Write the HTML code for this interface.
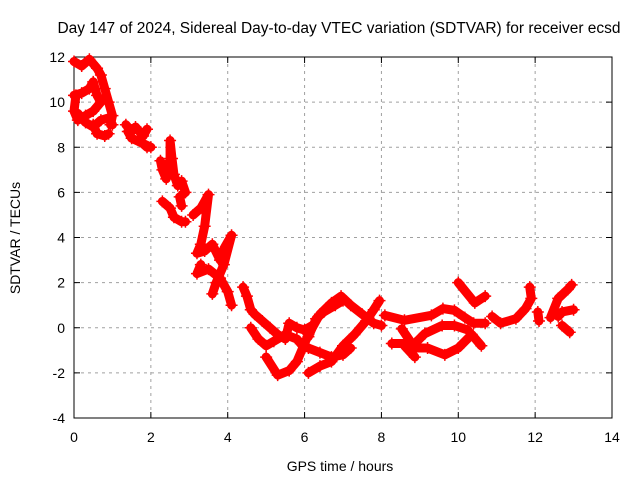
<!DOCTYPE html>
<html><head><meta charset="utf-8"><style>
body{margin:0;background:#fff}
svg{display:block;font-family:"Liberation Sans",sans-serif}
</style></head><body>
<svg id="chart" width="640" height="480">
<text x="339" y="33" font-size="15.5" text-anchor="middle">Day 147 of 2024, Sidereal Day-to-day VTEC variation (SDTVAR) for receiver ecsd</text>
<g id="grid"></g><g id="axes"></g><g id="marks"></g>
<text x="340" y="471" font-size="14" text-anchor="middle">GPS time / hours</text>
<text x="20" y="238" font-size="14" text-anchor="middle" transform="rotate(-90 20 238)">SDTVAR / TECUs</text>
</svg>
<script>
const xTicks=[0,2,4,6,8,10,12,14];
const yTicks=[-4,-2,0,2,4,6,8,10,12];
const tracks=[
[[0,11.8],[0.2,11.6],[0.4,11.9],[0.6,11.5],[0.7,11.2],[0.8,10.6],[0.9,10.0],[1.0,9.4],[0.95,9.0]],
[[0,10.3],[0.2,10.4],[0.4,10.6],[0.5,10.9],[0.6,10.3],[0.7,10.0],[0.5,9.6],[0.3,9.4],[0.1,9.2],[0.0,9.6],[0.05,10.3]],
[[0.1,9.5],[0.3,9.1],[0.5,8.9],[0.7,9.2],[0.9,9.3],[1.0,9.0]],
[[0.5,9.0],[0.6,8.6],[0.8,8.5],[0.9,8.6]],
[[1.35,9.0],[1.5,8.7],[1.6,8.9],[1.8,8.5],[1.9,8.8],[1.7,8.3],[1.9,8.0],[2.0,8.0],[1.5,8.4],[1.4,8.7]],
[[2.25,7.4],[2.3,7.0],[2.4,6.6],[2.5,7.5],[2.5,8.3],[2.55,7.5],[2.6,6.8],[2.7,6.3],[2.8,6.5],[2.9,6.0],[2.75,5.8],[2.8,5.4]],
[[2.3,5.6],[2.5,5.3],[2.6,4.9],[2.8,4.7],[2.9,4.7]],
[[3.1,5.0],[3.3,5.3],[3.5,5.9],[3.4,4.5],[3.3,3.7],[3.2,3.3],[3.4,3.4],[3.6,3.7],[3.8,3.0],[3.9,3.5],[4.1,4.1],[3.9,2.8],[3.7,2.0],[3.6,1.5]],
[[3.3,2.8],[3.2,2.4],[3.5,2.6],[3.8,2.2],[4.0,1.6],[4.1,1.0]],
[[4.4,1.8],[4.5,1.4],[4.6,0.8],[4.7,0.6],[4.9,0.3],[5.1,0.0],[5.3,-0.3],[5.5,-0.5],[5.6,0.2],[5.8,0.0],[6.0,-0.1],[6.2,0.1]],
[[4.6,0.0],[4.8,-0.5],[5.0,-0.8],[5.2,-0.6],[5.5,-0.3],[5.8,-0.5],[6.0,-0.9]],
[[5.0,-1.3],[5.3,-2.1],[5.6,-1.9],[5.8,-1.5],[6.1,-0.3],[6.4,0.6],[6.7,1.1],[6.95,1.4],[7.2,1.0],[7.5,0.6],[7.8,0.2],[8.0,0.1]],
[[6.1,-2.0],[6.4,-1.7],[6.7,-1.5],[7.0,-0.8],[7.3,-0.3],[7.6,0.3],[7.8,0.8],[7.95,1.2]],
[[5.9,-0.7],[6.1,-0.9],[6.4,-1.1],[6.7,-1.3],[7.0,-1.2],[7.2,-0.9]],
[[6.1,-0.4],[6.3,0.4],[6.5,0.7],[6.8,1.0],[7.0,1.2]],
[[8.09,0.55],[8.6,0.33],[9.3,0.55],[9.6,0.85],[9.9,0.77],[10.17,0.45],[10.4,0.2],[10.7,0.2]],
[[8.27,-0.7],[8.87,-0.7],[9.13,-0.26],[9.58,0.1],[9.9,0.1],[10.25,-0.1]],
[[8.53,-0.05],[8.87,-0.9],[9.2,-0.9],[9.65,-1.2],[10.0,-0.9],[10.35,-0.3],[10.6,-0.8]],
[[8.6,-0.8],[8.87,-1.3]],
[[10.0,2.0],[10.43,1.1],[10.7,1.4]],
[[10.88,0.5],[11.1,0.2],[11.5,0.4],[11.75,0.85],[11.9,1.3],[11.86,1.8]],
[[12.07,0.7],[12.1,0.3]],
[[12.4,0.45],[12.6,1.3],[12.85,1.7],[12.95,1.9]],
[[12.6,0.5],[12.7,0.7],[13.0,0.8]],
[[12.7,0.1],[12.9,-0.2]]
];
const X0=74,X1=612,Y0=418,Y1=57;
const sx=v=>X0+(v-0)/(14-0)*(X1-X0);
const sy=v=>Y0-(v+4)/(12+4)*(Y0-Y1);
const NS="http://www.w3.org/2000/svg";
function mk(t,a,p){const e=document.createElementNS(NS,t);for(const k in a)e.setAttribute(k,a[k]);p.appendChild(e);return e;}
const grid=document.getElementById('grid'),axes=document.getElementById('axes'),marks=document.getElementById('marks');
xTicks.forEach(t=>{const x=sx(t);
 if(t>0&&t<14){const l=mk('line',{x1:x,y1:Y1,x2:x,y2:Y0,stroke:'#a0a0a0','stroke-dasharray':'3,4'},grid);
 
 }
 mk('line',{x1:x,y1:Y0,x2:x,y2:Y0-6,stroke:'#000'},axes);
 mk('line',{x1:x,y1:Y1,x2:x,y2:Y1+6,stroke:'#000'},axes);
 const tx=mk('text',{x:x,y:Y0+24,'font-size':14,'text-anchor':'middle'},axes);tx.textContent=t;
 
 
});
yTicks.forEach(t=>{const y=sy(t);
 if(t>-4&&t<12){const l=mk('line',{x1:X0,y1:y,x2:X1,y2:y,stroke:'#a0a0a0','stroke-dasharray':'3,4'},grid);
 
 }
 mk('line',{x1:X0,y1:y,x2:X0+6,y2:y,stroke:'#000'},axes);
 mk('line',{x1:X1,y1:y,x2:X1-6,y2:y,stroke:'#000'},axes);
 const tx=mk('text',{x:X0-9,y:y+5,'font-size':14,'text-anchor':'end'},axes);tx.textContent=t;
 
 
});
const fr=mk('rect',{x:X0,y:Y1,width:X1-X0,height:Y0-Y1,fill:'none',stroke:'#000'},axes);


tracks.forEach(tr=>{
 const p=mk('polyline',{points:tr.map(d=>sx(d[0])+','+sy(d[1])).join(' '),fill:'none',stroke:'#f00','stroke-width':9,'stroke-linejoin':'round','stroke-linecap':'round'},marks);
 
 
 tr.forEach(d=>{const x=sx(d[0]),y=sy(d[1]);
  const m=mk('path',{d:`M${x-6},${y}H${x+6}M${x},${y-6}V${y+6}`,stroke:'#f00','stroke-width':1.5},marks);
  
  
 });
});
</script>
</body></html>
